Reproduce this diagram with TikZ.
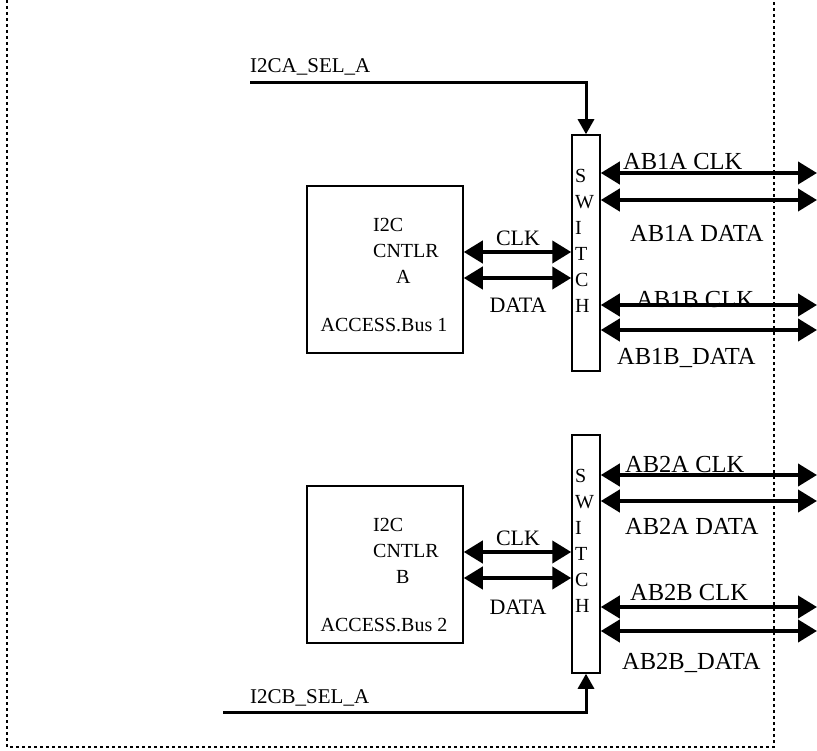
\documentclass[tikz,border=0pt]{standalone}
\usepackage{fontspec}
\setmainfont{Liberation Serif}
\usetikzlibrary{arrows.meta}
\begin{document}
\begin{tikzpicture}[x=1pt, y=-1pt]
    % Define styles
    \tikzstyle{cntlr} = [draw, line width=1.5pt, minimum width=156pt, minimum height=167pt]
    \tikzstyle{swbox} = [draw, line width=1.5pt, minimum width=28pt, minimum height=236pt, inner sep=0pt]
    \tikzstyle{lbl} = [inner sep=0pt, font=\fontsize{20}{26}\selectfont]
    \tikzstyle{buslbl} = [inner sep=0pt, anchor=west, font=\fontsize{24.5}{28}\selectfont]
    \tikzstyle{bus} = [line width=4pt, {Triangle[length=19pt,width=22pt]}-{Triangle[length=19pt,width=22pt]}]
    \tikzstyle{sel} = [line width=3pt, -{Triangle[length=15pt,width=16pt]}]
    \tikzstyle{dotframe} = [line width=2.5pt, dash pattern=on 3pt off 3pt]

    \useasboundingbox (0,0) rectangle (817,751);
    \draw[dotframe] (7,0) -- (7,747) -- (774,747) -- (774,0);

    % Nodes
    \node[cntlr] (ctlA) at (385,269.5) {};
    \node[lbl, align=left, anchor=west] (ctlAname) at (373,251) {I2C\\CNTLR\\\hspace*{23pt}A};
    \node[lbl] (busA) at (384,325) {ACCESS.Bus 1};
    \node[swbox] (swA) at (586,253) {};
    \node[lbl, align=left, anchor=west] (swAtxt) at (575,241) {S\\W\\I\\T\\C\\H};

    \node[cntlr, minimum height=157pt] (ctlB) at (385,564.5) {};
    \node[lbl, align=left, anchor=west] (ctlBname) at (373,551) {I2C\\CNTLR\\\hspace*{23pt}B};
    \node[lbl] (busB) at (384,625) {ACCESS.Bus 2};
    \node[swbox, minimum height=238pt] (swB) at (586,554) {};
    \node[lbl, align=left, anchor=west] (swBtxt) at (575,541) {S\\W\\I\\T\\C\\H};

    % Labels
    \node[lbl, anchor=west, font=\fontsize{21}{26}\selectfont] (selAlbl) at (250,67) {I2CA\_SEL\_A};
    \node[lbl, anchor=west, font=\fontsize{21}{26}\selectfont] (selBlbl) at (250,698) {I2CB\_SEL\_A};
    \node[lbl, font=\fontsize{22}{26}\selectfont] (clkAlbl) at (518,238) {CLK};
    \node[lbl, font=\fontsize{22}{26}\selectfont] (dataAlbl) at (518,305) {DATA};
    \node[lbl, font=\fontsize{22}{26}\selectfont] (clkBlbl) at (518,538) {CLK};
    \node[lbl, font=\fontsize{22}{26}\selectfont] (dataBlbl) at (518,607) {DATA};
    \node[buslbl] (ab1aclkLbl) at (623,162) {AB1A CLK};
    \node[buslbl] (ab1adataLbl) at (630,233) {AB1A DATA};
    \node[buslbl] (ab1bclkLbl) at (636,300) {AB1B CLK};
    \node[buslbl] (ab1bdataLbl) at (617,358) {AB1B\_DATA};
    \node[buslbl] (ab2aclkLbl) at (625,465) {AB2A CLK};
    \node[buslbl] (ab2adataLbl) at (625,526) {AB2A DATA};
    \node[buslbl] (ab2bclkLbl) at (630,593) {AB2B CLK};
    \node[buslbl] (ab2bdataLbl) at (622,663) {AB2B\_DATA};

    % Free ends
    \coordinate (selA) at (250,83);
    \coordinate (selB) at (223,712);
    \coordinate (clkA) at (0,252);
    \coordinate (dataA) at (0,278);
    \coordinate (clkB) at (0,552);
    \coordinate (dataB) at (0,578);
    \coordinate (ab1aclk) at (817,173);
    \coordinate (ab1adata) at (817,200);
    \coordinate (ab1bclk) at (817,305);
    \coordinate (ab1bdata) at (817,330);
    \coordinate (ab2aclk) at (817,475);
    \coordinate (ab2adata) at (817,501);
    \coordinate (ab2bclk) at (817,607);
    \coordinate (ab2bdata) at (817,631);

    % Select lines
    \draw[sel] (selA) -| (swA.north);
    \draw[sel] (selB) -| (swB.south);

    % Bus arrows
    \draw[bus] (ctlA.east |- clkA) -- (swA.west |- clkA);
    \draw[bus] (ctlA.east |- dataA) -- (swA.west |- dataA);
    \draw[bus] (ctlB.east |- clkB) -- (swB.west |- clkB);
    \draw[bus] (ctlB.east |- dataB) -- (swB.west |- dataB);

    \draw[bus] (swA.east |- ab1aclk) -- (ab1aclk);
    \draw[bus] (swA.east |- ab1adata) -- (ab1adata);
    \draw[bus] (swA.east |- ab1bclk) -- (ab1bclk);
    \draw[bus] (swA.east |- ab1bdata) -- (ab1bdata);
    \draw[bus] (swB.east |- ab2aclk) -- (ab2aclk);
    \draw[bus] (swB.east |- ab2adata) -- (ab2adata);
    \draw[bus] (swB.east |- ab2bclk) -- (ab2bclk);
    \draw[bus] (swB.east |- ab2bdata) -- (ab2bdata);
\end{tikzpicture}
\end{document}
